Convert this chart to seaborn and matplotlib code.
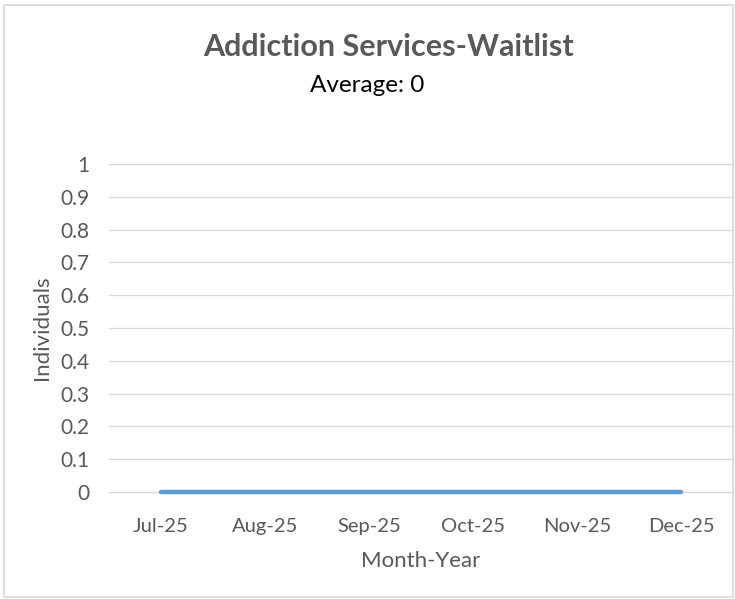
import matplotlib
matplotlib.use("Agg")
import matplotlib.pyplot as plt
import seaborn as sns
import pandas as pd
from matplotlib.patches import Rectangle

months = ["Jul-25", "Aug-25", "Sep-25", "Oct-25", "Nov-25", "Dec-25"]
waitlist = [0, 0, 0, 0, 0, 0]
y_ticks = [0, 0.1, 0.2, 0.3, 0.4, 0.5, 0.6, 0.7, 0.8, 0.9, 1]

sns.set_theme(style="white")
plt.rcParams['font.family'] = ['Lato', 'DejaVu Sans']

df = pd.DataFrame({"Month-Year": months, "Individuals": waitlist})

fig = plt.figure(figsize=(7.35, 5.99), dpi=100)
ax = fig.add_axes([109/735, 1 - 492/599, (733-109)/735, (492-164)/599])

for v in y_ticks:
    ax.axhline(v, color="#D9D9D9", lw=0.9, zorder=0, clip_on=False)

sns.lineplot(data=df, x="Month-Year", y="Individuals", ax=ax, color="#5B9BD5",
             lw=3.2, solid_capstyle="round", zorder=3)
for ln in ax.lines:
    ln.set_clip_on(False)

ax.set_xlim(-0.5, len(months) - 0.5)
ax.set_ylim(0, 1)
ax.set_yticks(y_ticks)
ax.set_yticklabels([f"{v:g}" for v in y_ticks], fontsize=15, color="#595959")
ax.tick_params(axis="x", labelsize=14.5, labelcolor="#595959", pad=19, length=0)
ax.tick_params(axis="y", pad=14, length=0)
ax.set_xlabel("Month-Year", fontsize=16, color="#595959", va="center")
ax.set_ylabel("Individuals", fontsize=16, color="#595959", va="center")
ax.xaxis.set_label_coords(0.5, -(561 - 492) / 328)
ax.yaxis.set_label_coords((42 - 109) / 624, 0.5)
for s in ax.spines.values():
    s.set_visible(False)

fig.text(388/735, 1 - 47/599, "Addiction Services-Waitlist", ha="center", va="center",
         fontsize=22, fontweight="bold", color="#595959")
fig.text(367/735, 1 - 85/599, "Average: 0", ha="center", va="center",
         fontsize=17.5, color="#000000")

fig.patches.append(Rectangle((4/735, 2/599), 729/735, 592/599, transform=fig.transFigure,
                             fill=False, edgecolor="#D9D9D9", lw=1.2))

fig.savefig("out.png", dpi=100)
